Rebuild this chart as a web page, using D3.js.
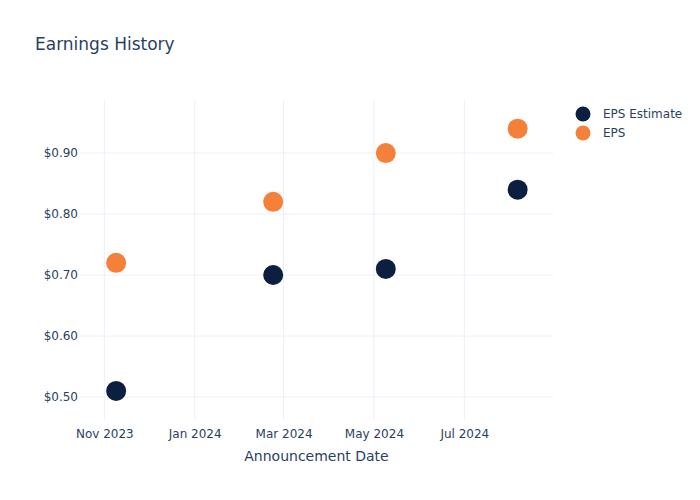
<!DOCTYPE html>
<html>
<head>
<meta charset="utf-8">
<script src="https://cdn.jsdelivr.net/npm/d3@7"></script>
<style>
  html, body { margin: 0; padding: 0; background: #fff; }
  svg { display: block; font-family: "DejaVu Sans", Verdana, sans-serif; }
</style>
</head>
<body>
<svg id="chart" width="700" height="500"></svg>
<script>
const dates = ["2023-11-09", "2024-02-23", "2024-05-09", "2024-08-06"];
const epsEstimate = [0.51, 0.70, 0.71, 0.84];
const eps = [0.72, 0.82, 0.90, 0.94];
const seriesNames = ["EPS Estimate", "EPS"];
const seriesColors = ["#0c1f40", "#f5803a"];
const yTicks = [0.5, 0.6, 0.7, 0.8, 0.9];
const xTicks = ["2023-11-01", "2024-01-01", "2024-03-01", "2024-05-01", "2024-07-01"];

const W = 700, H = 500;
const m = { l: 80, r: 147, t: 100, b: 80 };
const svg = d3.select("#chart");
const parse = d3.utcParse("%Y-%m-%d");
const textColor = "#2a3f5f";
const gridColor = "#ebf0f8";
const fontFam = '"DejaVu Sans", Verdana, sans-serif';

const x = d3.scaleUtc()
  .domain([parse("2023-11-01"), parse("2024-07-01")])
  .range([104.3, 464.3]);
const y = d3.scaleLinear()
  .domain([0.4623, 0.987])
  .range([H - m.b, m.t]);

// grid
svg.append("g").selectAll("line").data(yTicks).join("line")
  .attr("x1", m.l).attr("x2", W - m.r)
  .attr("y1", d => y(d)).attr("y2", d => y(d))
  .attr("stroke", gridColor).attr("stroke-width", 1);
svg.append("g").selectAll("line").data(xTicks).join("line")
  .attr("x1", d => x(parse(d))).attr("x2", d => x(parse(d)))
  .attr("y1", m.t).attr("y2", H - m.b)
  .attr("stroke", gridColor).attr("stroke-width", 1);

// axes
const yAxis = d3.axisLeft(y).tickValues(yTicks)
  .tickFormat(d => "$" + d3.format(".2f")(d)).tickSize(0).tickPadding(2);
const gy = svg.append("g").attr("transform", `translate(${m.l},0)`).call(yAxis)
  .attr("font-family", fontFam).attr("font-size", 12);
gy.select(".domain").remove();
gy.selectAll("text").attr("fill", textColor);

const xAxis = d3.axisBottom(x).tickValues(xTicks.map(parse))
  .tickFormat(d3.utcFormat("%b %Y")).tickSize(0).tickPadding(9);
const gx = svg.append("g").attr("transform", `translate(0,${H - m.b})`).call(xAxis)
  .attr("font-family", fontFam).attr("font-size", 12);
gx.select(".domain").remove();
gx.selectAll("text").attr("fill", textColor);

// axis title
svg.append("text")
  .attr("x", (m.l + W - m.r) / 2).attr("y", 461)
  .attr("text-anchor", "middle").attr("fill", textColor)
  .style("font-size", "14px").text("Announcement Date");

// title
svg.append("text").attr("x", 35).attr("y", 50)
  .attr("fill", textColor).style("font-size", "17px").text("Earnings History");

// points
const series = [epsEstimate, eps];
series.forEach((vals, i) => {
  svg.append("g").selectAll("circle").data(vals).join("circle")
    .attr("cx", (d, j) => x(parse(dates[j])))
    .attr("cy", d => y(d))
    .attr("r", 10)
    .attr("fill", seriesColors[i]);
});

// legend
const lg = svg.append("g");
seriesNames.forEach((n, i) => {
  const yy = 114 + i * 19;
  lg.append("circle").attr("cx", 583).attr("cy", yy).attr("r", 7.5).attr("fill", seriesColors[i]);
  lg.append("text").attr("x", 603).attr("y", yy + 4).attr("fill", textColor)
    .style("font-size", "12px").text(n);
});
</script>
</body>
</html>
